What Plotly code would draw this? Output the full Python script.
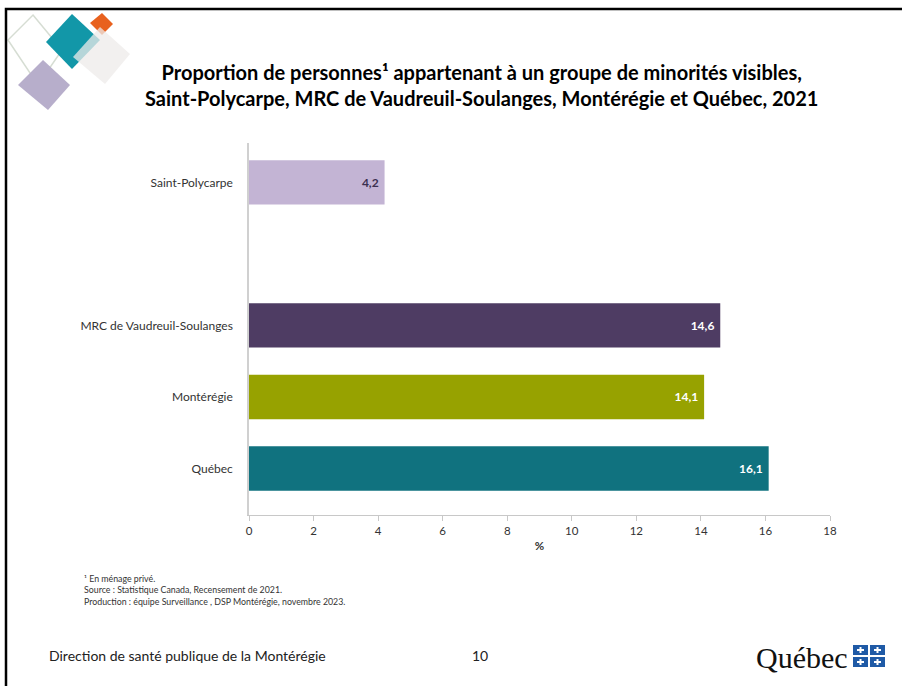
import plotly.graph_objects as go

# ---- data ----
categories = ["Saint-Polycarpe", "MRC de Vaudreuil-Soulanges", "Montérégie", "Québec"]
values = [4.2, 14.6, 14.1, 16.1]
value_labels = ["4,2", "14,6", "14,1", "16,1"]
positions = [4, 2, 1, 0]
bar_colors = ["#C3B4D4", "#4E3C63", "#97A200", "#10727F"]
label_colors = ["#3B3050", "white", "white", "white"]
x_ticks = [0, 2, 4, 6, 8, 10, 12, 14, 16, 18]

W, H = 902, 686
L, R, T, B = 249, 830, 143, 515  # plot area in window pixels


def px(x):
    return (x - L) / (R - L)


def py(y):
    return (B - y) / (B - T)


fig = go.Figure()
fig.add_trace(go.Bar(
    y=positions, x=values, orientation="h",
    marker=dict(color=bar_colors, line=dict(width=0)),
    width=0.62,
    text=value_labels, texttemplate="%{text} ",
    textposition="inside", insidetextanchor="end",
    textfont=dict(family="Lato", size=12, color=label_colors, weight="bold"),
    cliponaxis=False, hoverinfo="skip",
))

fig.update_layout(
    width=W, height=H,
    margin=dict(l=L, r=W - R, t=T, b=H - B, pad=0),
    paper_bgcolor="white", plot_bgcolor="white",
    showlegend=False,
    font=dict(family="Lato", color="#333333"),
    xaxis=dict(range=[0, 18], tickvals=x_ticks, ticktext=[str(v) for v in x_ticks],
               showgrid=False, zeroline=False, showline=True, linecolor="#C8C8C8",
               linewidth=1, ticks="outside", ticklen=5, tickcolor="#C8C8C8",
               tickfont=dict(size=11.5, color="#333333"),
               title=dict(text="<b>%</b>", font=dict(size=11.5, color="#333333"), standoff=6)),
    yaxis=dict(range=[-0.65, 4.55], tickvals=positions, ticktext=categories,
               showgrid=False, zeroline=False, showline=True, linecolor="#D0D0D0",
               linewidth=1.5, ticks="", ticklabelstandoff=12,
               tickfont=dict(size=12, color="#333333")),
)

# title
fig.add_annotation(
    text="<b>Proportion de personnes¹ appartenant à un groupe de minorités visibles,<br>"
         "Saint-Polycarpe, MRC de Vaudreuil-Soulanges, Montérégie et Québec, 2021</b>",
    xref="paper", yref="paper", x=px(481), y=py(85), xanchor="center", yanchor="middle",
    showarrow=False, align="center", font=dict(family="Lato", size=20, color="black"),
)

# footnotes
fig.add_annotation(
    text="¹ En ménage privé.<br>Source : Statistique Canada, Recensement de 2021.<br>"
         "Production : équipe Surveillance , DSP Montérégie, novembre 2023.",
    xref="paper", yref="paper", x=px(82), y=py(571), xanchor="left", yanchor="top",
    showarrow=False, align="left", font=dict(family="Lato", size=8.8, color="#333333"),
)

# footer
fig.add_annotation(text="Direction de santé publique de la Montérégie",
                   xref="paper", yref="paper", x=px(47), y=py(655), xanchor="left",
                   yanchor="middle", showarrow=False,
                   font=dict(family="Lato", size=14, color="#222222"))
fig.add_annotation(text="10", xref="paper", yref="paper", x=px(480), y=py(655),
                   xanchor="center", yanchor="middle", showarrow=False,
                   font=dict(family="Lato", size=14, color="#222222"))
fig.add_annotation(text="Québec", xref="paper", yref="paper", x=px(850), y=py(657),
                   xanchor="right", yanchor="middle", showarrow=False,
                   font=dict(family="Liberation Serif", size=30, color="#111111"))

# Québec flag blocks
for (x0, y0) in [(853, 645), (870, 645), (853, 657), (870, 657)]:
    fig.add_shape(type="rect", xref="paper", yref="paper",
                  x0=px(x0), x1=px(x0 + 15), y0=py(y0), y1=py(y0 + 10),
                  fillcolor="#1F5AA6", line=dict(width=0))
    fig.add_shape(type="rect", xref="paper", yref="paper",
                  x0=px(x0 + 6.5), x1=px(x0 + 8.5), y0=py(y0 + 2), y1=py(y0 + 8),
                  fillcolor="white", line=dict(width=0))
    fig.add_shape(type="rect", xref="paper", yref="paper",
                  x0=px(x0 + 4), x1=px(x0 + 11), y0=py(y0 + 4), y1=py(y0 + 6),
                  fillcolor="white", line=dict(width=0))


def diamond(pts, fill, line_color=None, opacity=1.0, lw=0):
    path = "M " + " L ".join(f"{px(x)},{py(y)}" for x, y in pts) + " Z"
    fig.add_shape(type="path", xref="paper", yref="paper", path=path,
                  fillcolor=fill, opacity=opacity,
                  line=dict(color=line_color or fill, width=lw))


# decorative logo diamonds
diamond([(33, 15), (62, 50), (38, 85), (8, 40)], "rgba(0,0,0,0)", "#D6DDD3", lw=1.5)
diamond([(43, 60), (70, 85), (48, 110), (18, 85)], "#B7AECB")
diamond([(72, 14), (100, 40), (72, 69), (46, 42)], "#1297A8")
diamond([(102, 13), (113, 24), (102, 35), (90, 23)], "#E8611E")
diamond([(100, 27), (130, 54), (105, 84), (73, 57)], "#EDEBEA", opacity=0.75)

# slide frame
fig.add_shape(type="rect", xref="paper", yref="paper",
              x0=px(6), x1=px(910), y0=py(9), y1=py(700),
              fillcolor="rgba(0,0,0,0)", line=dict(color="black", width=2.5))

fig.write_html("out.html", config={"displayModeBar": False},
               post_script="document.body.style.margin='0';document.body.style.overflow='hidden';")
